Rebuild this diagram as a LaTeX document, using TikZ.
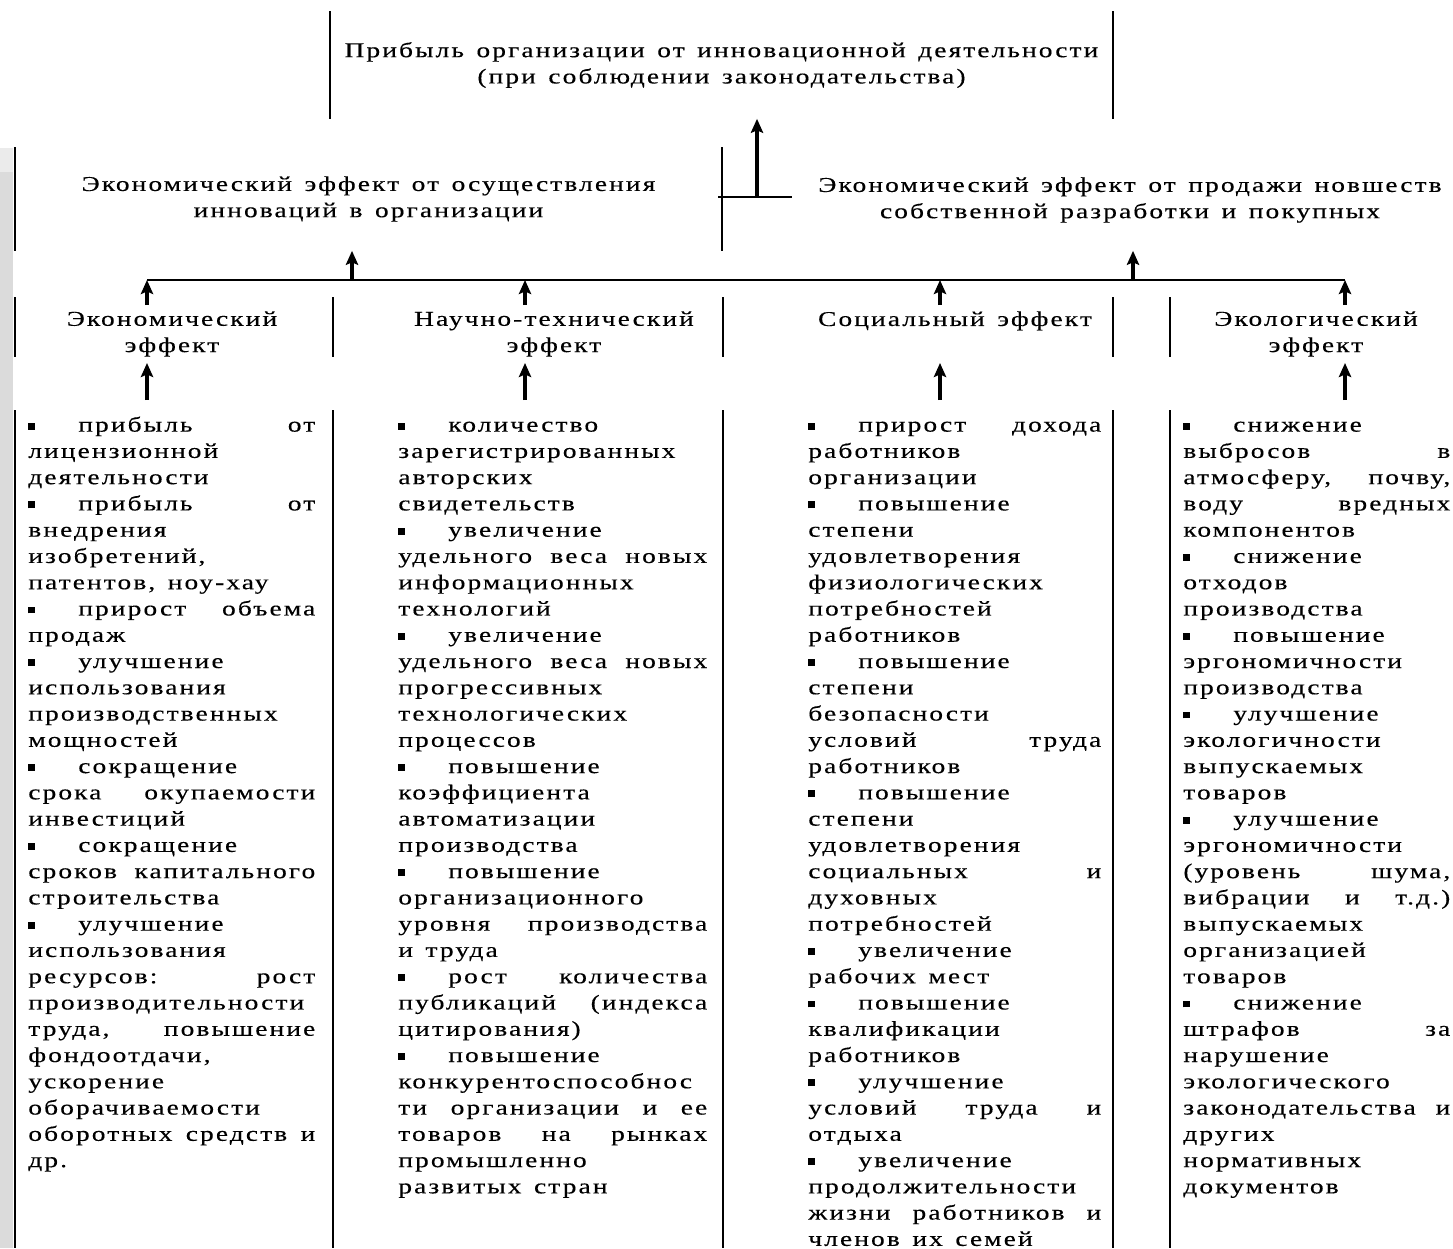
\documentclass[tikz,border=0pt]{standalone}
\usepackage{fontspec}
\setmainfont{Liberation Serif}[FakeStretch=1.3, LetterSpace=10, WordSpace=1.4, FakeBold=0.3]
\usetikzlibrary{arrows.meta, positioning}
\setlength{\parindent}{0pt}
\newcommand{\itm}{\par\noindent\strut\makebox[1cm][l]{\rule[1.2pt]{3.9pt}{3.9pt}}}
\newcommand{\loosepar}{\tolerance=10000 \hbadness=10000 }

\begin{document}
\begin{tikzpicture}[x=0.02cm, y=-0.02cm, >={Stealth[length=8pt, width=7pt, inset=1.5pt]},
  txt/.style={font={\fontsize{12}{14.95}\selectfont}, text=black, inner sep=0pt},
  topbox/.style={txt, align=center},
  effbox/.style={txt, align=center, anchor=north},
  listbox/.style={txt, anchor=north west, text width=#1, align=justify},
  side/.style={line width=1.2pt},
  conn/.style={line width=1.8pt, ->},
  bus/.style={line width=1.2pt}
]

% Canvas
\useasboundingbox (0,0) rectangle (1453,1248);
\fill[white] (0,0) rectangle (1453,1248);
\fill[black!14] (0,148) rectangle (13,1248);
\fill[black!8] (0,148) rectangle (13,172);

% Top result
\node[topbox, minimum width=15.66cm, minimum height=2.14cm] (top) at (721.5,65)
  {Прибыль организации от инновационной деятельности\\(при соблюдении законодательства)};
\draw[side] (top.north west) -- (top.south west) (top.north east) -- (top.south east);

% Second row
\node[topbox, minimum width=14.14cm, minimum height=2.06cm] (inner) at (368.5,199)
  {Экономический эффект от осуществления\\инноваций в организации};
\node[topbox] (sale) at (1130,200)
  {Экономический эффект от продажи новшеств\\собственной разработки и покупных};
\draw[side] (inner.north west) -- (inner.south west) (inner.north east) -- (inner.south east);

% Junction to top
\coordinate (jl) at (718,197);
\coordinate (jr) at (792,197);
\coordinate (j) at (757,197);
\draw[side] (jl) -- (jr);
\draw[conn] (j) -- (j |- top.south);

% Bus
\coordinate (bl) at (147,280);
\coordinate (br) at (1345,280);
\coordinate (b1) at (352,280);
\coordinate (b2) at (1133,280);
\draw[bus] (bl) -- (br);
\draw[conn] (b1) -- (b1 |- inner.south);
\draw[conn] (b2) -- (b2 |- inner.south);

% Effects
\node[effbox] (eco) at (172,311) {Экономический\\эффект};
\node[effbox] (sci) at (554,311) {Научно-технический\\эффект};
\node[effbox] (soc) at (955,311) {Социальный эффект};
\node[effbox] (env) at (1316,311) {Экологический\\эффект};

\foreach \x in {15,333,723,1113,1170} {
  \draw[side] (\x,297) -- (\x,357);
  \draw[side] (\x,410) -- (\x,1248);
}

% Columns for arrows
\coordinate (c1) at (147,0);
\coordinate (c2) at (525,0);
\coordinate (c3) at (940,0);
\coordinate (c4) at (1345,0);
\coordinate (lo) at (0,400);
\coordinate (hi) at (0,363);
\coordinate (up) at (0,305);

\foreach \c in {c1,c2,c3,c4} {
  \draw[conn] (\c |- up) -- (\c |- bl);
  \draw[conn] (\c |- lo) -- (\c |- hi);
}

% Lists
\node[listbox=5.74cm] (ecoL) at (28,405) {\loosepar
\itm прибыль от\linebreak лицензионной\linebreak деятельности
\itm прибыль от\linebreak внедрения\linebreak изобретений,\linebreak патентов, ноу-хау
\itm прирост объема\linebreak продаж
\itm улучшение\linebreak использования\linebreak производственных\linebreak мощностей
\itm сокращение\linebreak срока окупаемости\linebreak инвестиций
\itm сокращение\linebreak сроков капитального\linebreak строительства
\itm улучшение\linebreak использования\linebreak ресурсов: рост\linebreak производительности\linebreak труда, повышение\linebreak фондоотдачи,\linebreak ускорение\linebreak оборачиваемости\linebreak оборотных средств и\linebreak др.};

\node[listbox=6.18cm] (sciL) at (398,405) {\loosepar
\itm количество\linebreak зарегистрированных\linebreak авторских\linebreak свидетельств
\itm увеличение\linebreak удельного веса новых\linebreak информационных\linebreak технологий
\itm увеличение\linebreak удельного веса новых\linebreak прогрессивных\linebreak технологических\linebreak процессов
\itm повышение\linebreak коэффициента\linebreak автоматизации\linebreak производства
\itm повышение\linebreak организационного\linebreak уровня производства\linebreak и труда
\itm рост количества\linebreak публикаций (индекса\linebreak цитирования)
\itm повышение\linebreak конкурентоспособнос\linebreak ти организации и ее\linebreak товаров на рынках\linebreak промышленно\linebreak развитых стран};

\node[listbox=5.86cm] (socL) at (808,405) {\loosepar
\itm прирост дохода\linebreak работников\linebreak организации
\itm повышение\linebreak степени\linebreak удовлетворения\linebreak физиологических\linebreak потребностей\linebreak работников
\itm повышение\linebreak степени\linebreak безопасности\linebreak условий труда\linebreak работников
\itm повышение\linebreak степени\linebreak удовлетворения\linebreak социальных и\linebreak духовных\linebreak потребностей
\itm увеличение\linebreak рабочих мест
\itm повышение\linebreak квалификации\linebreak работников
\itm улучшение\linebreak условий труда и\linebreak отдыха
\itm увеличение\linebreak продолжительности\linebreak жизни работников и\linebreak членов их семей};

\node[listbox=5.34cm] (envL) at (1183,405) {\loosepar
\itm снижение\linebreak выбросов в\linebreak атмосферу, почву,\linebreak воду вредных\linebreak компонентов
\itm снижение\linebreak отходов\linebreak производства
\itm повышение\linebreak эргономичности\linebreak производства
\itm улучшение\linebreak экологичности\linebreak выпускаемых\linebreak товаров
\itm улучшение\linebreak эргономичности\linebreak (уровень шума,\linebreak вибрации и т.д.)\linebreak выпускаемых\linebreak организацией\linebreak товаров
\itm снижение\linebreak штрафов за\linebreak нарушение\linebreak экологического\linebreak законодательства и\linebreak других\linebreak нормативных\linebreak документов};

\end{tikzpicture}
\end{document}
